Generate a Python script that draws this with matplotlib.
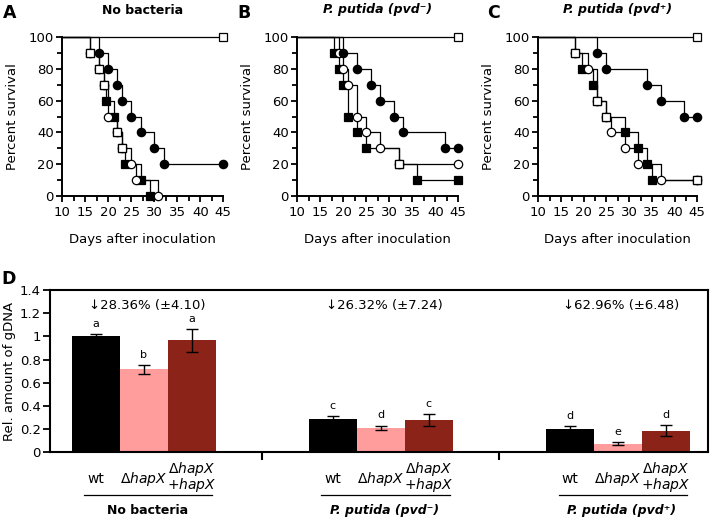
import matplotlib
matplotlib.use('Agg')
import matplotlib.pyplot as plt
import numpy as np

plt.rcParams['font.family'] = ['DejaVu Sans']
plt.rcParams['mathtext.fontset'] = 'dejavusans'

# ---------------- data ----------------
panel_letters = ['A', 'B', 'C']
panel_titles = ['No bacteria', 'P. putida (pvd\u207b)', 'P. putida (pvd\u207a)']
title_italic = [False, True, True]

# survival (death times in days, survival % after each event)
A_wt_t = [16, 18, 19, 19.6, 21.2, 22, 23, 23.6, 27.2, 29.1]
A_wt_s = [90, 80, 70, 60, 50, 40, 30, 20, 10, 0]
A_dh_t = [18, 20, 22, 23, 25, 27, 30, 32]
A_dh_s = [90, 80, 70, 60, 50, 40, 30, 20]
A_co_t = [16, 18, 19, 20, 22, 23, 25, 26, 30.9]
A_co_s = [90, 80, 70, 50, 40, 30, 20, 10, 0]

B_wt_t = [18, 19, 20, 21, 23, 25, 32, 36]
B_wt_s = [90, 80, 70, 50, 40, 30, 20, 10]
B_dh_t = [20, 23, 26, 28, 31, 33, 42]
B_dh_s = [90, 80, 70, 60, 50, 40, 30]
B_co_t = [19, 20, 21, 23, 25, 28, 32]
B_co_s = [90, 80, 70, 50, 40, 30, 20]

C_wt_t = [18, 19.6, 22, 23, 25, 29, 32, 34, 35]
C_wt_s = [90, 80, 70, 60, 50, 40, 30, 20, 10]
C_dh_t = [23, 25, 34, 37, 42]
C_dh_s = [90, 80, 70, 60, 50]
C_co_t = [18, 21, 23, 25, 26, 29, 32, 37]
C_co_s = [90, 80, 60, 50, 40, 30, 20, 10]

CTRL_t = []
CTRL_s = []

days_start, days_end = 10, 45

# bar chart
groups = ['No bacteria', 'P. putida (pvd\u207b)', 'P. putida (pvd\u207a)']
strain_labels = ['wt', r'$\Delta\mathit{hapX}$', r'$\Delta\mathit{hapX}$' + '\n' + r'$+\mathit{hapX}$']
wt_vals = [1.00, 0.285, 0.20]
wt_err = [0.02, 0.03, 0.026]
dh_vals = [0.715, 0.21, 0.075]
dh_err = [0.04, 0.02, 0.013]
co_vals = [0.965, 0.28, 0.187]
co_err = [0.10, 0.05, 0.05]
wt_letters = ['a', 'c', 'd']
dh_letters = ['b', 'd', 'e']
co_letters = ['a', 'c', 'd']
reductions = ['\u219328.36% (\u00b14.10)', '\u219326.32% (\u00b17.24)', '\u219362.96% (\u00b16.48)']
bar_colors = ['#000000', '#FF9C9C', '#8B2318']

# ---------------- figure ----------------
W, H = 711, 519
fig = plt.figure(figsize=(W / 100, H / 100), dpi=100)


def px_axes(l, t, r, b):
    return fig.add_axes([l / W, 1 - b / H, (r - l) / W, (b - t) / H])


def km(ax, t, s, marker, mfc, ms, z):
    xs = [days_start] + list(t)
    ys = [100] + list(s)
    mx, my = list(t), list(s)
    if len(s) == 0 or s[-1] > 0:
        xs.append(days_end)
        ys.append(ys[-1])
        mx.append(days_end)
        my.append(ys[-1])
    ax.step(xs, ys, where='post', color='black', lw=0.9, zorder=z, clip_on=False)
    ax.plot(mx, my, ls='none', marker=marker, mfc=mfc, mec='black', mew=0.9, ms=ms,
            zorder=z + 0.5, clip_on=False)
    return list(zip(np.round(mx, 2), np.round(my, 2)))


panel_px = [(62.3, 37, 223.3, 196), (297.3, 37, 458.3, 196), (538.3, 37, 697.3, 196)]
panel_data = [
    (A_wt_t, A_wt_s, A_dh_t, A_dh_s, A_co_t, A_co_s),
    (B_wt_t, B_wt_s, B_dh_t, B_dh_s, B_co_t, B_co_s),
    (C_wt_t, C_wt_s, C_dh_t, C_dh_s, C_co_t, C_co_s),
]
letter_px = [(10, 13), (244, 13), (493, 13)]

for i in range(3):
    l, t, r, b = panel_px[i]
    ax = px_axes(l, t, r, b)
    wt_t, wt_s, dh_t, dh_s, co_t, co_s = panel_data[i]
    km(ax, CTRL_t, CTRL_s, 's', 'white', 6.0, 2)
    p_wt = km(ax, wt_t, wt_s, 's', 'black', 5.6, 3)
    p_co = km(ax, co_t, co_s, 'o', 'white', 6.0, 4)
    both = sorted(set(p_wt) & set(p_co))
    if both:
        bx, by = zip(*both)
        ax.plot(bx, by, ls='none', marker='s', mfc='white', mec='black', mew=0.9, ms=6.2,
                zorder=5, clip_on=False)
    km(ax, dh_t, dh_s, 'o', 'black', 6.0, 6)

    ax.set_xlim(days_start, days_end)
    ax.set_ylim(0, 100)
    ax.set_xticks(np.arange(10, 46, 5))
    ax.set_xticks(np.arange(12.5, 45, 5), minor=True)
    ax.set_yticks(np.arange(0, 101, 20))
    ax.set_yticks(np.arange(10, 100, 20), minor=True)
    for sp in ['top', 'right']:
        ax.spines[sp].set_visible(False)
    for sp in ['left', 'bottom']:
        ax.spines[sp].set_linewidth(1.4)
    ax.tick_params(which='major', direction='out', length=4.5, width=1.3, labelsize=9.5, pad=1.5)
    ax.tick_params(which='minor', direction='out', length=3.5, width=1.3)
    ax.tick_params(axis='x', pad=2.5)
    ax.set_ylabel('Percent survival', fontsize=9.5)
    ax.yaxis.set_label_coords(-43 / (r - l), 0.5)
    ax.set_xlabel('Days after inoculation', fontsize=9.5)
    ax.xaxis.set_label_coords(0.5, -37 / (b - t))
    ax.text(0.5, 1 + 27 / (b - t), panel_titles[i], transform=ax.transAxes, ha='center',
            va='center', fontsize=9, fontweight='bold',
            fontstyle='italic' if title_italic[i] else 'normal')
    fig.text(letter_px[i][0] / W, 1 - letter_px[i][1] / H, panel_letters[i], fontsize=12.5,
             fontweight='bold', ha='center', va='center')

# ---------------- panel D ----------------
axD = px_axes(50, 290, 708, 452.3)
xg = np.arange(3)
bw = 0.2024
series = [(wt_vals, wt_err, wt_letters), (dh_vals, dh_err, dh_letters), (co_vals, co_err, co_letters)]
for k, (vals, errs, lets) in enumerate(series):
    xs = xg + (k - 1) * bw
    axD.bar(xs, vals, width=bw, color=bar_colors[k], edgecolor='none', zorder=2)
    axD.errorbar(xs, vals, yerr=errs, fmt='none', ecolor='black', elinewidth=1.0,
                 capsize=4.2, capthick=1.0, zorder=3)
    for xi, v, e, lt in zip(xs, vals, errs, lets):
        axD.text(xi, v + e + 0.062, lt, ha='center', va='baseline', fontsize=8)

axD.set_xlim(-0.395, 2.38)
axD.set_ylim(0, 1.4)
yt = np.arange(0, 1.41, 0.2)
axD.set_yticks(yt)
axD.set_yticklabels(['0', '0.2', '0.4', '0.6', '0.8', '1', '1.2', '1.4'])
axD.set_xticks([0.5, 1.5])
axD.set_xticklabels(['', ''])
for sp in axD.spines.values():
    sp.set_linewidth(1.5)
axD.tick_params(axis='y', direction='out', length=5, width=1.3, labelsize=9.5, pad=1.5)
axD.tick_params(axis='x', direction='out', length=6, width=1.5)
axD.set_ylabel('Rel. amount of gDNA', fontsize=9.5)
axD.yaxis.set_label_coords(-34 / 658, 0.5)

tr = axD.get_xaxis_transform()
for g in range(3):
    c = xg[g]
    axD.text(c + 0.015, 1.27, reductions[g], ha='center', va='center', fontsize=9.5)
    for k in range(3):
        xi = c + (k - 1) * bw
        axD.text(xi, -0.152 if k == 2 else -0.164, strain_labels[k], transform=tr,
                 ha='center', va='center', fontsize=10, linespacing=0.85)
    axD.plot([c - 0.25, c + 0.29], [-0.263, -0.263], transform=tr, color='black', lw=0.9,
             clip_on=False)
    axD.text(c + 0.015, -0.356, groups[g], transform=tr, ha='center', va='center',
             fontsize=9, fontweight='bold', fontstyle='normal' if g == 0 else 'italic')

fig.text(9 / W, 1 - 279 / H, 'D', fontsize=12.5, fontweight='bold', ha='center', va='center')

fig.savefig('out.png', dpi=100)
